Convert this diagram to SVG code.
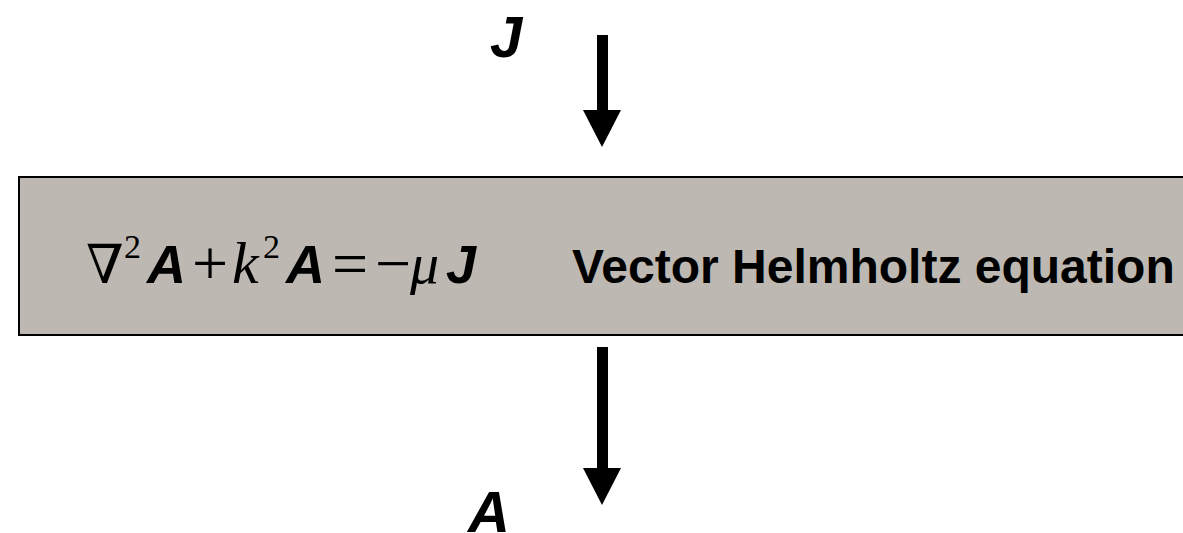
<svg xmlns="http://www.w3.org/2000/svg" width="1183" height="533" viewBox="0 0 1183 533">
<style>
.box{fill:#BEB8B2;stroke:#000;stroke-width:2}
.sans{font-family:"Liberation Sans",Arial,sans-serif;fill:#000}
.bi{font-family:"Liberation Sans",Arial,sans-serif;font-weight:bold;font-style:italic;fill:#000}
.ser{font-family:"Liberation Serif","DejaVu Serif",serif;fill:#000}
.op{font-family:"Liberation Serif","DejaVu Serif",serif;fill:#000;font-size:64px}
.arrow{fill:#000}
</style>
<rect width="1183" height="533" fill="#fff"/>
<g id="node-block">
<rect class="box" x="19" y="177" width="1175" height="158"/>
<text class="ser" x="86" y="283" font-size="54">∇</text>
<text class="ser" x="124" y="258" font-size="34">2</text>
<text class="bi" x="147" y="283" font-size="54">A</text>
<text class="op" x="192" y="285">+</text>
<text class="ser" x="232" y="283" font-size="60" font-style="italic">k</text>
<text class="ser" x="263" y="258" font-size="34">2</text>
<text class="bi" x="286" y="283" font-size="54">A</text>
<text class="op" x="332" y="285">=</text>
<text class="op" x="375" y="285">−</text>
<text class="ser" x="410" y="283" font-size="58" font-style="italic">μ</text>
<text class="bi" x="446" y="283" font-size="54">J</text>
<text class="sans" x="572" y="283" font-size="48" font-weight="bold">Vector Helmholtz equation</text>
</g>
<g id="node-J">
<text class="bi" x="490" y="57" font-size="58">J</text>
</g>
<g id="node-A">
<text class="bi" x="468" y="532" font-size="58">A</text>
</g>
<g id="connectors">
<rect class="arrow" x="597" y="35" width="11" height="77"/>
<polygon class="arrow" points="583,110 621,110 602,147"/>
<rect class="arrow" x="597" y="347" width="11" height="123"/>
<polygon class="arrow" points="583,468 621,468 602,505"/>
</g>
</svg>
